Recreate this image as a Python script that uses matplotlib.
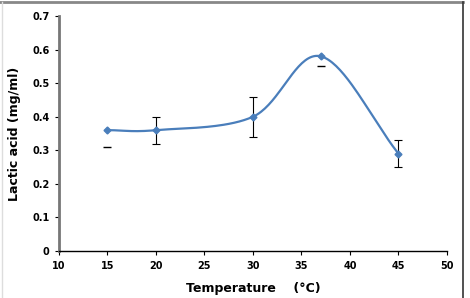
import numpy as np
import matplotlib
matplotlib.use("Agg")
import matplotlib.pyplot as plt
from matplotlib.lines import Line2D

# data
temperature = [15, 20, 30, 37, 45]
lactic = [0.36, 0.36, 0.40, 0.58, 0.29]
err_low = [0.05, 0.04, 0.06, 0.03, 0.04]
err_high = [0.00, 0.04, 0.06, 0.00, 0.04]
x_ticks = [10, 15, 20, 25, 30, 35, 40, 45, 50]
y_ticks = [0, 0.1, 0.2, 0.3, 0.4, 0.5, 0.6, 0.7]


def smooth_curve(x, y, n=40):
    # Catmull-Rom style smoothing, like a spreadsheet "smoothed line"
    x = np.asarray(x, float)
    y = np.asarray(y, float)
    px = np.concatenate([[2 * x[0] - x[1]], x, [2 * x[-1] - x[-2]]])
    py = np.concatenate([[2 * y[0] - y[1]], y, [2 * y[-1] - y[-2]]])
    xs, ys = [], []
    t = np.linspace(0, 1, n)
    for i in range(1, len(px) - 2):
        for p, out in ((px, xs), (py, ys)):
            p0, p1, p2, p3 = p[i - 1], p[i], p[i + 1], p[i + 2]
            m1 = (p2 - p0) / 2
            m2 = (p3 - p1) / 2
            h00 = 2 * t**3 - 3 * t**2 + 1
            h10 = t**3 - 2 * t**2 + t
            h01 = -2 * t**3 + 3 * t**2
            h11 = t**3 - t**2
            out.extend(h00 * p1 + h10 * m1 + h01 * p2 + h11 * m2)
    return np.array(xs), np.array(ys)


plt.rcParams['font.family'] = ['DejaVu Sans']
fig = plt.figure(figsize=(4.7, 2.98), dpi=100)
ax = fig.add_axes([0.1255, 0.158, 0.8255, 0.788])

blue = '#4A7EBB'
sx, sy = smooth_curve(temperature, lactic)
ax.plot(sx, sy, color=blue, lw=1.6, zorder=3)
ax.plot(temperature, lactic, 'D', color=blue, ms=3.5, zorder=4)

# full error bars where both sides show, lone lower caps elsewhere
tx = np.array(temperature)
ty = np.array(lactic)
lo = np.array(err_low)
hi = np.array(err_high)
full = hi > 0
ax.errorbar(tx[full], ty[full], yerr=[lo[full], hi[full]], fmt='none',
            ecolor='black', elinewidth=0.8, capsize=3, capthick=0.8,
            zorder=2)
ax.plot(tx[~full], ty[~full] - lo[~full], '_', color='black', ms=6,
        mew=1.0, zorder=2)

ax.set_xlim(10, 50)
ax.set_ylim(0, 0.7)
ax.set_xticks(x_ticks)
ax.set_yticks(y_ticks)
ax.set_xticklabels([str(v) for v in x_ticks], fontsize=7, fontweight='bold')
ax.set_yticklabels([('0' if v == 0 else f'{v:.1f}') for v in y_ticks],
                   fontsize=7, fontweight='bold')
ax.tick_params(direction='out', length=3, width=0.8, pad=4)

for s in ('top', 'right'):
    ax.spines[s].set_visible(False)
ax.spines['left'].set_color('#777777')
ax.spines['left'].set_linewidth(2)
ax.spines['bottom'].set_color('black')
ax.spines['bottom'].set_linewidth(1)

ax.set_xlabel('Temperature    (\u00b0C)', fontsize=9, fontweight='bold',
              labelpad=8)
ax.set_ylabel('Lactic acid (mg/ml)', fontsize=9, fontweight='bold',
              labelpad=8)

# outer frame of the picture
fig.add_artist(Line2D([0.0, 0.985], [0.993, 0.993], color='#888888', lw=2,
                      transform=fig.transFigure))
fig.add_artist(Line2D([0.985, 0.985], [0.0, 0.993], color='#333333', lw=1.2,
                      transform=fig.transFigure))
fig.add_artist(Line2D([0.004, 0.004], [0.0, 0.993], color='#dddddd', lw=1,
                      transform=fig.transFigure))

fig.savefig('out.png', dpi=100)
